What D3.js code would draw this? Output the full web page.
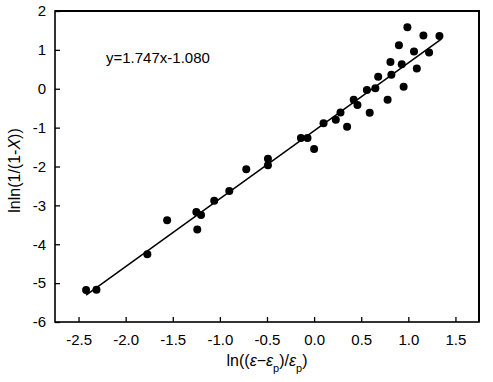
<!DOCTYPE html>
<html>
<head>
<meta charset="utf-8">
<script src="https://cdn.jsdelivr.net/npm/d3@7"></script>
<style>
  html, body { margin: 0; padding: 0; background: #fff; }
  svg { display: block; }
  text { font-family: "Liberation Sans", Arial, sans-serif; fill: #000; }
</style>
</head>
<body>
<svg id="chart" width="493" height="382"></svg>
<script>
// Data
const xValues = [-2.42, -2.31, -1.77, -1.56, -1.25, -1.20, -1.24, -1.06, -0.90, -0.72,
  -0.49, -0.49, -0.14, -0.07, 0.00, 0.10, 0.23, 0.28, 0.35, 0.42,
  0.46, 0.56, 0.59, 0.65, 0.68, 0.78, 0.81, 0.82, 0.90, 0.93,
  0.95, 0.99, 1.06, 1.09, 1.16, 1.22, 1.33];
const yValues = [-5.18, -5.17, -4.26, -3.38, -3.17, -3.25, -3.62, -2.88, -2.63, -2.07,
  -1.80, -1.97, -1.27, -1.27, -1.55, -0.89, -0.80, -0.61, -0.98, -0.28,
  -0.42, -0.03, -0.62, 0.01, 0.31, -0.28, 0.69, 0.36, 1.12, 0.63,
  0.05, 1.58, 0.96, 0.52, 1.37, 0.93, 1.36];
const fitSlope = 1.747;
const fitIntercept = -1.080;
const fitRange = [-2.42, 1.35];
const xTicks = [-2.5, -2.0, -1.5, -1.0, -0.5, 0.0, 0.5, 1.0, 1.5];
const yTicks = [-6, -5, -4, -3, -2, -1, 0, 1, 2];
const equationLabel = "y=1.747x-1.080";

(function () {
const svg = d3.select("#chart");
const mLeft = 55, mRight = 479, mTop = 11, mBottom = 322;

const x = d3.scaleLinear().domain([-2.75, 1.75]).range([mLeft, mRight]);
const y = d3.scaleLinear().domain([-6, 2]).range([mBottom, mTop]);

// Frame
svg.append("rect")
  .attr("x", mLeft).attr("y", mTop)
  .attr("width", mRight - mLeft).attr("height", mBottom - mTop)
  .attr("fill", "none").attr("stroke", "#000").attr("stroke-width", 1.6);
// slightly heavier top/right edges as in the reference
svg.append("path")
  .attr("d", `M${mLeft},${mTop}H${mRight}V${mBottom}`)
  .attr("fill", "none").attr("stroke", "#000").attr("stroke-width", 2);

// Axes (inward ticks)
const xAxis = d3.axisBottom(x).tickValues(xTicks).tickFormat(d3.format(".1f"))
  .tickSizeInner(-5).tickSizeOuter(0).tickPadding(12);
const gx = svg.append("g").attr("transform", `translate(0,${mBottom})`).call(xAxis);
const yAxis = d3.axisLeft(y).tickValues(yTicks).tickFormat(d3.format("d"))
  .tickSizeInner(-5).tickSizeOuter(0).tickPadding(9);
const gy = svg.append("g").attr("transform", `translate(${mLeft},0)`).call(yAxis);

[gx, gy].forEach(g => {
  g.select(".domain").remove();
  g.selectAll(".tick line").attr("stroke", "#000").attr("stroke-width", 1.3);
  g.selectAll(".tick text").style("font-size", "15px").attr("fill", "#000")
    .text(function () { return this.textContent.replace("\u2212", "-"); });
});
gx.selectAll(".tick text").attr("dy", "0.71em");

// Fit line
const line = d3.line().x(d => x(d)).y(d => y(fitSlope * d + fitIntercept));
svg.append("path").datum(fitRange).attr("d", line)
  .attr("fill", "none").attr("stroke", "#000").attr("stroke-width", 1.5);

// Points
svg.append("g").selectAll("circle").data(xValues.map((d, i) => [d, yValues[i]]))
  .join("circle")
  .attr("cx", d => x(d[0])).attr("cy", d => y(d[1]))
  .attr("r", 4).attr("fill", "#000");

// Equation
svg.append("text").attr("x", 106).attr("y", 63).style("font-size", "15px").text(equationLabel);

// Y label
const yl = svg.append("text")
  .attr("transform", `translate(20,${(mTop + mBottom) / 2 + 4}) rotate(-90)`)
  .attr("text-anchor", "middle").style("font-size", "16px");
yl.append("tspan").text("lnln(1/(1-");
yl.append("tspan").style("font-style", "italic").text("X");
yl.append("tspan").text("))");

// X label
const xl = svg.append("text").attr("x", (mLeft + mRight) / 2).attr("y", 366)
  .attr("text-anchor", "middle").style("font-size", "16px");
xl.append("tspan").text("ln((");
xl.append("tspan").style("font-style", "italic").text("ε");
xl.append("tspan").text("−");
xl.append("tspan").style("font-style", "italic").text("ε");
xl.append("tspan").attr("dy", 6).style("font-size", "11px").text("p");
xl.append("tspan").attr("dy", -6).text(")/");
xl.append("tspan").style("font-style", "italic").text("ε");
xl.append("tspan").attr("dy", 6).style("font-size", "11px").text("p");
xl.append("tspan").attr("dy", -6).text(")");
})();
</script>
</body>
</html>
